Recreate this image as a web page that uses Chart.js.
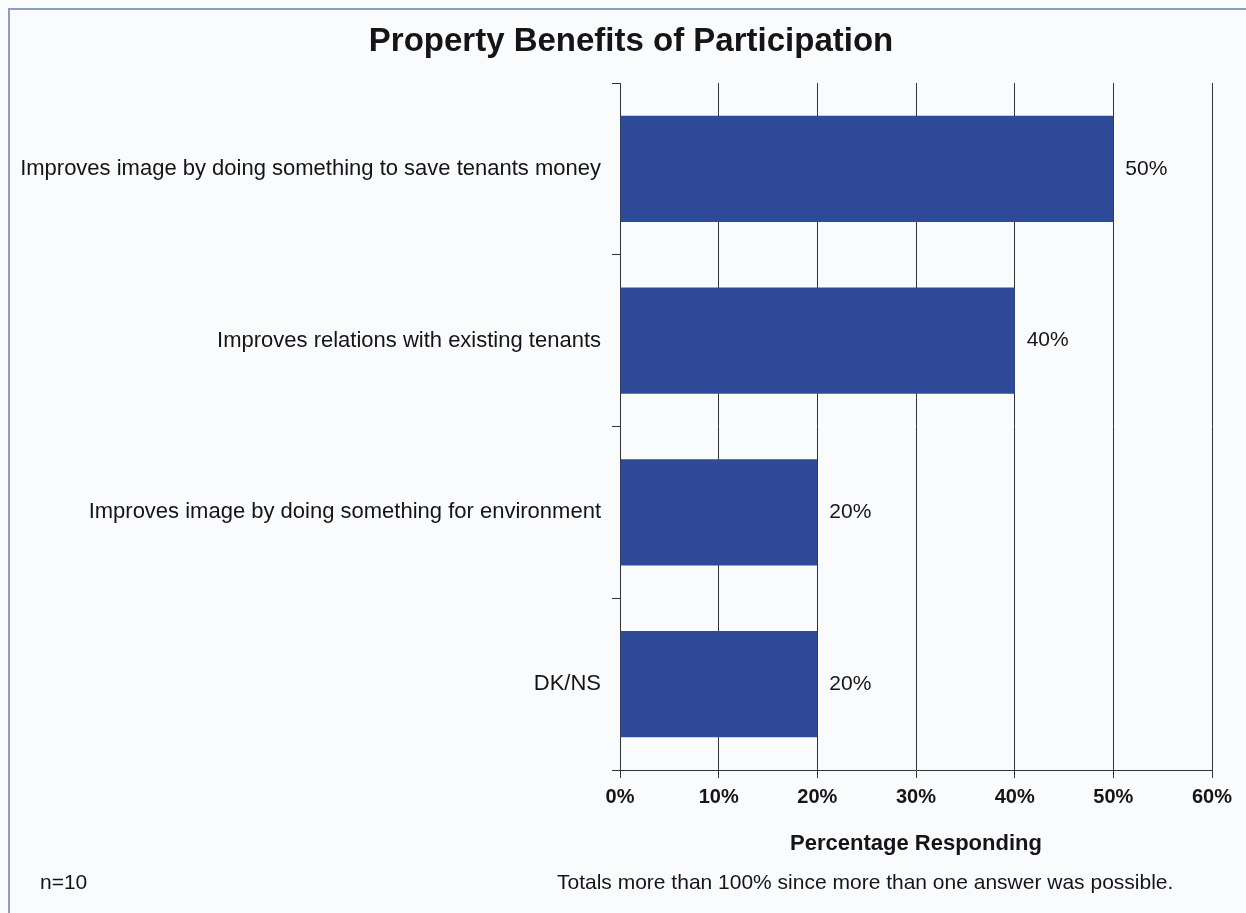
<!DOCTYPE html>
<html>
<head>
<meta charset="utf-8">
<title>Property Benefits of Participation</title>
<script src="https://cdn.jsdelivr.net/npm/chart.js@4.4.1/dist/chart.umd.min.js"></script>
<style>
  body { margin: 0; background: #fafbfc; }
  #wrap { position: relative; width: 1246px; height: 913px; }
  #frame { position: absolute; left: 8px; top: 8px; right: -10px; bottom: -10px;
           border-left: 2px solid #8f9cc2; border-top: 2px solid #8f9cc2; pointer-events: none; }
</style>
</head>
<body>
<div id="wrap">
  <canvas id="myChart" width="1246" height="913"></canvas>
  <div id="frame"></div>
</div>
<script>
const categories = [
    'Improves image by doing something to save tenants money',
    'Improves relations with existing tenants',
    'Improves image by doing something for environment',
    'DK/NS'
];
const percentages = [50, 40, 20, 20];
const xTicks = [0, 10, 20, 30, 40, 50, 60];

const titleText = 'Property Benefits of Participation';
const axisTitle = 'Percentage Responding';
const sampleNote = 'n=10';
const totalsNote = 'Totals more than 100% since more than one answer was possible.';

const FONT = '"Liberation Sans", Arial, sans-serif';

// texts around the plot plus the value next to each bar
const extraText = {
    id: 'extraText',
    afterDatasetsDraw(chart) {
        const ctx = chart.ctx;
        const area = chart.chartArea;
        ctx.save();
        ctx.fillStyle = '#151515';
        ctx.textBaseline = 'middle';

        ctx.font = 'bold 33px ' + FONT;
        ctx.textAlign = 'center';
        ctx.fillText(titleText, 631, 42);

        ctx.font = 'bold 22px ' + FONT;
        ctx.fillText(axisTitle, (area.left + area.right) / 2, 844);

        ctx.font = '21px ' + FONT;
        ctx.textAlign = 'left';
        ctx.fillText(sampleNote, 40, 883);
        ctx.fillText(totalsNote, 557, 883);

        const meta = chart.getDatasetMeta(0);
        meta.data.forEach((bar, i) => {
            ctx.fillText(percentages[i] + '%', bar.x + 12, bar.y);
        });
        ctx.restore();
    }
};

const ctx = document.getElementById('myChart');

new Chart(ctx, {
    type: 'bar',
    data: {
        labels: categories,
        datasets: [{
            data: percentages,
            backgroundColor: '#2f4a99',
            borderWidth: 0,
            categoryPercentage: 1,
            barPercentage: 0.62
        }]
    },
    plugins: [extraText],
    options: {
        indexAxis: 'y',
        responsive: false,
        animation: false,
        layout: { padding: { top: 83, right: 34, left: 0, bottom: 0 } },
        plugins: {
            legend: { display: false },
            tooltip: { enabled: false }
        },
        scales: {
            x: {
                min: 0,
                max: 60,
                afterFit: function(scale) { scale.height = 143; },
                afterBuildTicks: function(scale) {
                    scale.ticks = xTicks.map(v => ({ value: v }));
                },
                ticks: {
                    callback: v => v + '%',
                    color: '#151515',
                    padding: 7,
                    maxRotation: 0,
                    font: { family: FONT, size: 20, weight: 'bold' }
                },
                grid: {
                    color: '#333',
                    lineWidth: 1,
                    tickLength: 8
                },
                border: { color: '#333', width: 1 }
            },
            y: {
                afterFit: function(scale) { scale.width = 620; },
                ticks: {
                    color: '#151515',
                    padding: 11,
                    font: { family: FONT, size: 22 }
                },
                grid: {
                    drawOnChartArea: false,
                    color: '#333',
                    tickLength: 8
                },
                border: { color: '#333', width: 1 }
            }
        }
    }
});
</script>
</body>
</html>
